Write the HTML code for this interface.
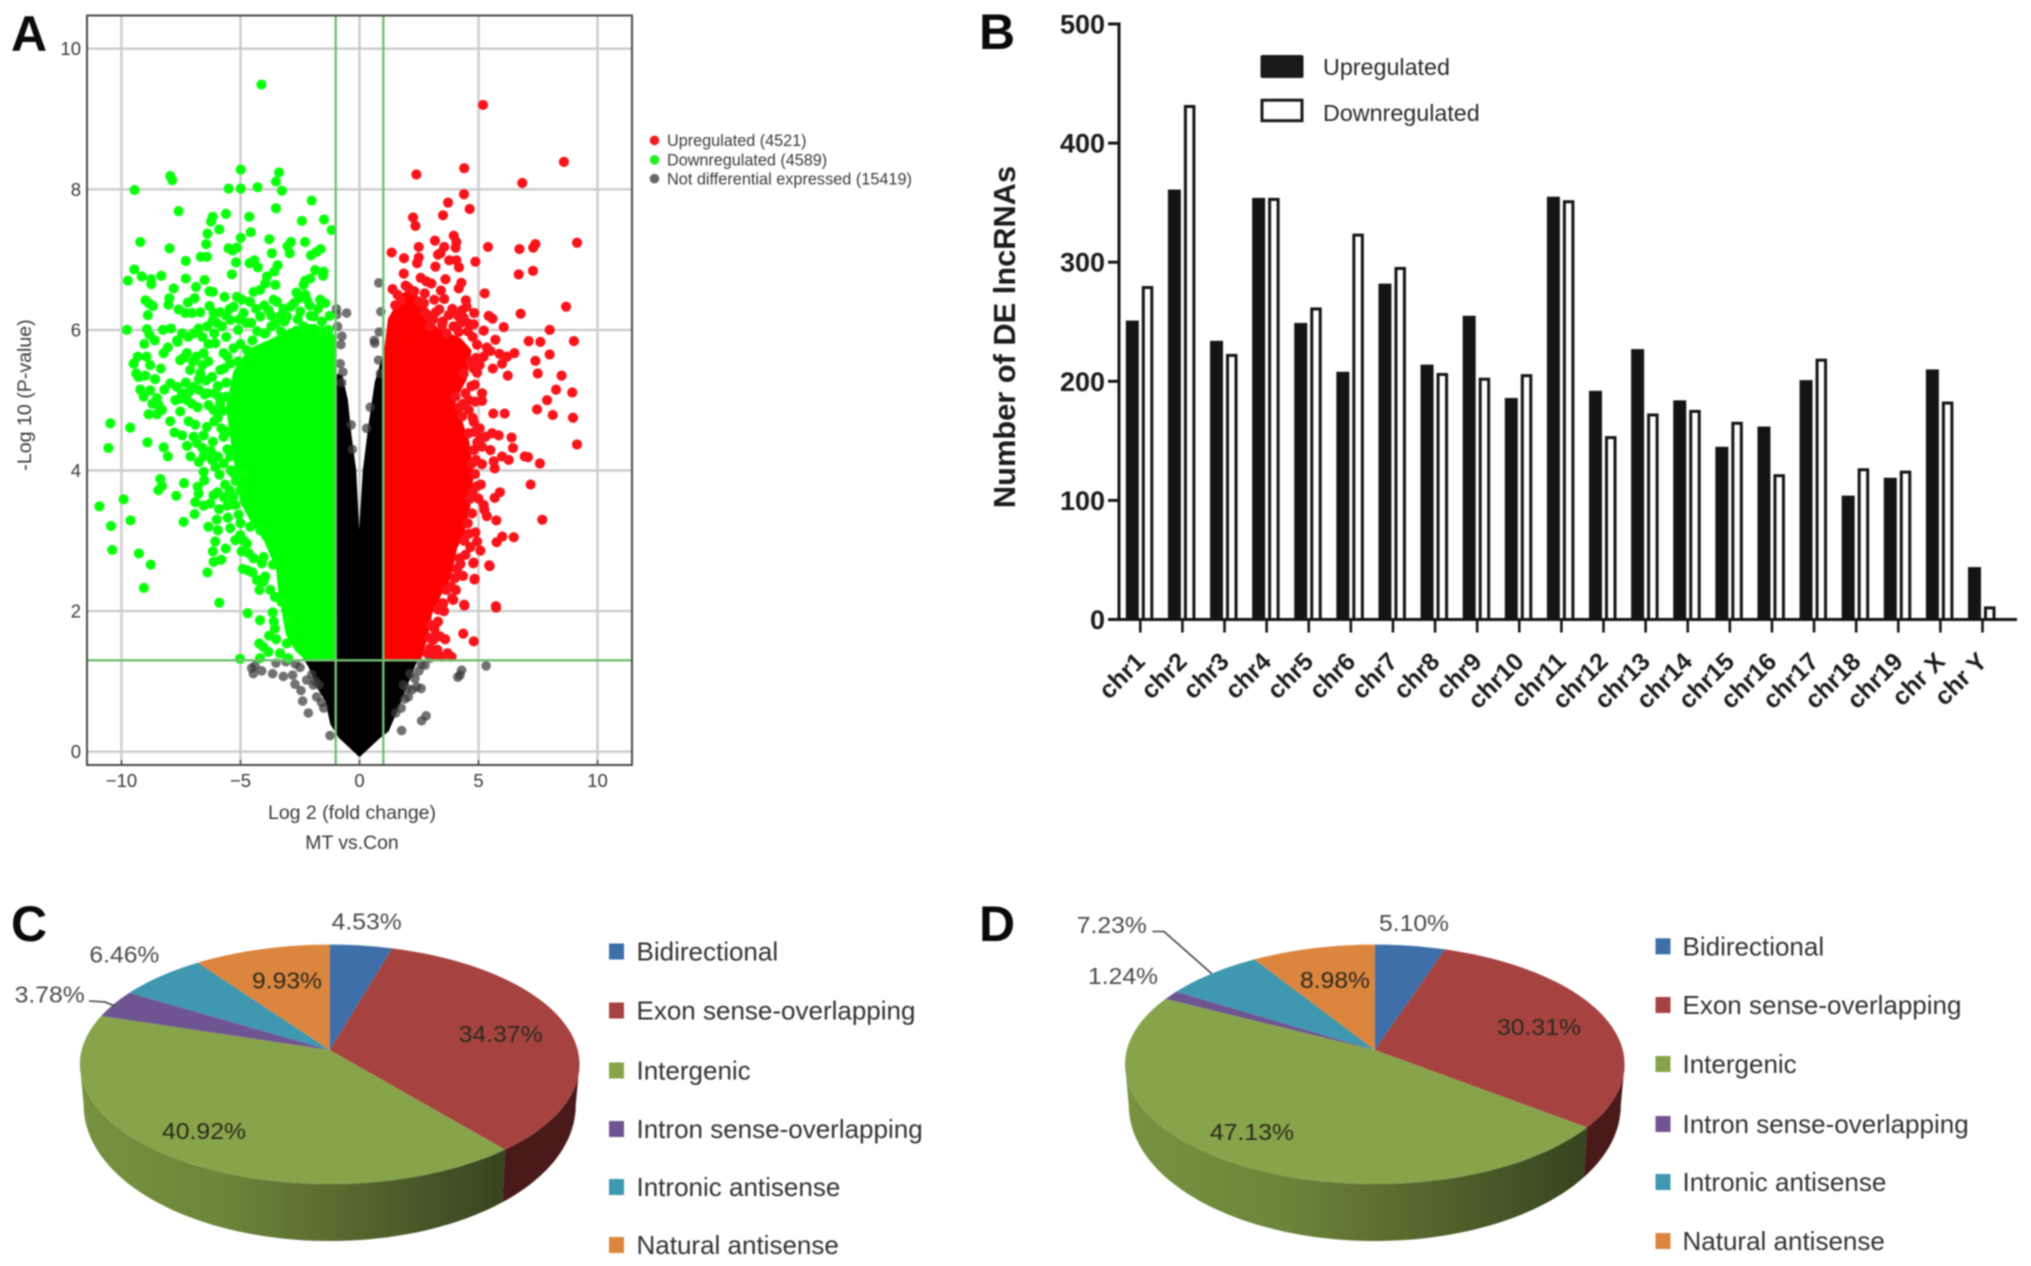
<!DOCTYPE html>
<html lang="en">
<head>
<meta charset="utf-8">
<title>Differentially expressed lncRNAs figure</title>
<style>
html,body{margin:0;padding:0;background:#fff;}
#figure{display:block;width:2031px;height:1266px;filter:blur(0.8px);font-family:"Liberation Sans",Arial,sans-serif;}
.a-txt{fill:#3a3a3a;}
.b-txt{fill:#1c1c1c;font-weight:bold;}
.pie-leg{fill:#333;font-size:26px;}
.panel{font-size:50px;font-weight:bold;fill:#0a0a0a;}
</style>
</head>
<body>
<svg id="figure" xmlns="http://www.w3.org/2000/svg" width="2031" height="1266" viewBox="0 0 2031 1266">
  <rect width="2031" height="1266" fill="#fff"/>

  <text class="panel" x="11" y="51">A</text>
  <text class="panel" x="979" y="49">B</text>
  <text class="panel" x="11" y="941">C</text>
  <text class="panel" x="979" y="941">D</text>

  <g id="volcano"></g>
  <text class="a-txt" x="352" y="819" font-size="19.5" text-anchor="middle">Log 2 (fold change)</text>
  <text class="a-txt" x="352" y="849" font-size="19.4" text-anchor="middle">MT vs.Con</text>
  <text class="a-txt" transform="translate(31,395) rotate(-90)" font-size="19.6" text-anchor="middle">-Log 10 (P-value)</text>

  <g>
    <circle cx="654.5" cy="140.4" r="4.8" fill="#f01c20"/>
    <text class="a-txt" x="667" y="146" font-size="16.2">Upregulated (4521)</text>
    <circle cx="654.5" cy="159.8" r="4.8" fill="#22ee22"/>
    <text class="a-txt" x="667" y="165.5" font-size="16.2">Downregulated (4589)</text>
    <circle cx="654.5" cy="178.7" r="4.8" fill="#666"/>
    <text class="a-txt" x="667" y="184.5" font-size="16.3">Not differential expressed (15419)</text>
  </g>

  <g id="bars"></g>
  <text class="b-txt" transform="translate(1015,337) rotate(-90)" font-size="30.8" text-anchor="middle">Number of DE lncRNAs</text>
  <g>
    <rect x="1260.5" y="55" width="43" height="23" rx="2" fill="#1a1a1a"/>
    <text x="1323" y="75" font-size="23.3" fill="#2a2a2a">Upregulated</text>
    <rect x="1262" y="100.2" width="40" height="20.5" fill="#fff" stroke="#1a1a1a" stroke-width="3"/>
    <text x="1323" y="121" font-size="23.3" fill="#2a2a2a">Downregulated</text>
  </g>

  <defs>
    <linearGradient id="greenSideC" gradientUnits="userSpaceOnUse" x1="80" y1="0" x2="505" y2="0">
      <stop offset="0" stop-color="#76923f"/><stop offset="0.35" stop-color="#6b8439"/><stop offset="0.62" stop-color="#57692f"/><stop offset="1" stop-color="#36441f"/>
    </linearGradient>
    <linearGradient id="greenSideD" gradientUnits="userSpaceOnUse" x1="1125" y1="0" x2="1585" y2="0">
      <stop offset="0" stop-color="#76923f"/><stop offset="0.35" stop-color="#6b8439"/><stop offset="0.62" stop-color="#57692f"/><stop offset="1" stop-color="#36441f"/>
    </linearGradient>
  </defs>
  <g id="pieC"></g>
  <g id="pieD"></g>
  <polyline points="89,1001 105,1002 115,1006" fill="none" stroke="#444" stroke-width="1.6"/>
  <polyline points="1152.5,931.5 1164,931.5 1211.7,973.6" fill="none" stroke="#444" stroke-width="1.6"/>
  <g id="legendC"></g>
  <g id="legendD"></g>
</svg>

<script>
/* ---------- Panel A data: log2 fold change, -log10 p-value ---------- */
const volcanoXTicks = [-10, -5, 0, 5, 10];
const volcanoYTicks = [0, 2, 4, 6, 8, 10];
const foldThreshold = 1;
const pThreshold = 1.3;

const denseNotDifferential = [[0,-.05],[-.82,.21],[-1.17,.4],[-1.38,.73],[-1.66,.88],[-2.08,1.21],[-2.3,1.33],[-1,1.33],[-1,5.35],[-.78,5.35],[-.55,5],[-.4,4.5],[-.2,4],[-.08,3.2],[0,2.7],[.06,3.2],[.2,4],[.45,4.67],[.7,5.25],[1,5.6],[1,1.33],[2.4,1.33],[2.26,1.21],[1.98,.97],[1.7,.73],[1.42,.5],[1.17,.3],[.82,.21]];
const denseDownregulated = [[-1.05,1.33],[-2.2,1.33],[-2.6,1.45],[-3,1.68],[-3.3,2.25],[-3.4,2.6],[-3.9,3],[-4.5,3.3],[-4.9,3.55],[-5.1,3.96],[-5.3,4.4],[-5.5,4.9],[-5.2,5.4],[-4.6,5.7],[-3.6,5.85],[-2.7,6.02],[-1.9,6.05],[-1.1,5.9]];
const denseUpregulated = [[1.14,1.33],[2.5,1.33],[2.8,1.68],[2.95,1.97],[3.35,2.25],[3.75,2.49],[4,2.9],[4.3,3.1],[4.55,3.49],[4.7,3.96],[4.5,4.43],[4.1,4.8],[3.9,5],[4.4,5.3],[4.6,5.7],[4.2,5.85],[3.2,6],[2.6,6.3],[2.3,6.5],[1.9,6.5],[1.3,6.15],[1.14,5.7]];

const downPoints = [[-4.12,9.49],[-4.99,8.28],[-3.38,8.24],[-3.51,8.11],[-3.26,7.98],[-4.28,8.03],[-4.99,8.01],[-5.5,8.01],[-7.95,8.19],[-7.87,8.13],[-9.45,7.99],[-7.6,7.69],[-2.01,7.84],[-3.51,7.73],[-6.17,7.61],[-6.24,7.54],[-5.61,7.65],[-4.63,7.61],[-2.42,7.55],[-1.49,7.57],[-1.17,7.42],[-5.89,7.43],[-6.39,7.37],[-4.57,7.39],[-4.99,7.31],[-3.79,7.29],[-9.21,7.25],[-7.98,7.16],[-6.44,7.22],[-5.5,7.16],[-5.33,7.13],[-5.15,7.17],[-2.88,7.25],[-3.02,7.19],[-2.93,7.09],[-2.29,7.25],[-3.68,7.09],[-1.63,7.15],[-1.81,7.11],[-2.04,7.06],[-6.67,7.04],[-6.41,7.04],[-7.3,6.98],[-5.19,6.96],[-4.62,6.95],[-4.42,6.99],[-4.27,6.89],[-3.44,6.92],[-3.58,6.83],[-9.46,6.86],[-9.15,6.76],[-9.73,6.7],[-8.76,6.72],[-8.75,6.65],[-8.33,6.77],[-7.3,6.73],[-6.51,6.71],[-5.36,6.79],[-1.86,6.85],[-1.51,6.83],[-1.53,6.77],[-3.89,6.76],[-3.96,6.66],[-3.54,6.64],[-2.28,6.7],[-2.35,6.64],[-2.07,6.73],[-7.81,6.59],[-6.87,6.61],[-6.3,6.55],[-6.16,6.54],[-5.67,6.47],[-4.45,6.54],[-4.17,6.57],[-2.65,6.53],[-2.28,6.5],[-8.99,6.42],[-8.85,6.38],[-8.68,6.34],[-8.89,6.21],[-7.99,6.45],[-8.03,6.36],[-6.93,6.45],[-7.21,6.39],[-7.6,6.29],[-7.32,6.24],[-7.04,6.24],[-6.69,6.25],[-6.3,6.34],[-6.13,6.24],[-6.16,6.14],[-5.15,6.47],[-5.29,6.33],[-4.94,6.43],[-3.61,6.43],[-3.47,6.4],[-1.65,6.43],[-1.44,6.38],[-2.21,6.43],[-2.49,6.26],[-1.93,6.19],[-1.58,6.12],[-9.77,6],[-8.93,6.01],[-8.82,5.93],[-8.26,6],[-7.92,6.02],[-7.67,5.85],[-6.76,6.02],[-6.97,5.95],[-5.78,6.05],[-5.43,6.14],[-4.87,6.24],[-4.17,6.19],[-3.82,6.28],[-3.54,6.09],[-3.05,6.19],[-3.2,6.3],[-2.9,6.33],[-4.55,6.1],[-5.1,6],[-5.6,5.9],[-6.1,5.95],[-4.3,5.98],[-3.95,5.95],[-9.04,5.8],[-7.64,5.83],[-8.23,5.67],[-9.32,5.62],[-9.49,5.52],[-9.38,5.38],[-9.28,5.33],[-8.59,5.3],[-9.21,5.15],[-9.07,5.05],[-8.79,5.14],[-8.51,5.03],[-8.44,4.93],[-8.3,4.86],[-8.86,4.8],[-8.51,4.8],[-10.47,4.67],[-9.63,4.61],[-10.55,4.32],[-8.91,4.4],[-7.78,4.54],[-8.23,4.33],[-8.05,4.2],[-7.95,5.24],[-7.67,5.19],[-7.74,5],[-7.25,5],[-7.53,4.84],[-7.18,4.7],[-6.9,4.65],[-6.41,4.62],[-6.97,4.48],[-6.83,4.39],[-6.16,4.41],[-6.55,4.2],[-6.2,4.15],[-5.88,3.94],[-8.37,3.88],[-8.3,3.78],[-8.45,3.72],[-7.37,3.82],[-6.52,3.86],[-6.8,3.77],[-6.76,3.67],[-7.7,3.64],[-9.91,3.59],[-10.93,3.49],[-10.44,3.21],[-9.62,3.29],[-10.39,2.87],[-9.27,2.82],[-8.77,2.66],[-9.06,2.33],[-7.39,3.27],[-6.93,3.38],[-6.55,3.5],[-6.27,3.53],[-6.13,3.65],[-5.96,3.69],[-5.36,3.53],[-5.22,3.51],[-5.54,3.33],[-5.08,3.37],[-5.43,3.18],[-5.22,3.01],[-5.01,3.08],[-6.06,2.99],[-6.16,2.85],[-5.62,2.89],[-6.13,2.7],[-5.81,2.73],[-6.39,2.55],[-4.9,2.6],[-4.7,2.58],[-5.89,2.12],[-4.45,2.75],[-4.03,2.77],[-4.1,2.68],[-3.64,2.66],[-4.31,2.44],[-3.96,2.49],[-4.03,2.42],[-4.73,2.96],[-4.59,3.2],[-4.17,3.15],[-5.01,3.72],[-4.87,3.96],[-5.29,3.96],[-5.43,4.2],[-5.71,4.48],[-6.13,4.86],[-6.34,4.93],[-5.85,4.96],[-7.53,5.57],[-7.25,5.67],[-6.55,5.67],[-7.11,5.43],[-6.69,5.38],[-6.2,5.33],[-6.97,5.19],[-6.06,5.81],[-5.71,5.67],[-5.43,5.52],[-5.85,5.43],[-5.29,5.74],[-4.73,5.71],[-6.4,5.1],[-5.95,5.2],[-5.6,5.25],[-4.7,1.97],[-3.65,1.98],[-4.18,1.87],[-4.25,2.44],[-3.97,2.49],[-4.21,1.54],[-4.04,1.49],[-3.83,1.42],[-5.02,1.32],[-4.18,1.33],[-3.27,2.13],[-2.99,1.87],[-3.06,1.54],[-3.34,1.4],[-2.99,1.33],
[-7.4,5.6],[-7,5.55],[-6.85,5.62],[-6.6,5.5],[-6.35,5.55],[-6.75,5.3],[-6.45,5.28],[-7.3,5.25],[-7.15,5.12],[-6.75,5.15],[-6.5,5.08],[-6.1,5.1],[-5.9,5.05],[-7.45,5.1],[-7.55,5.02],[-7.05,4.95],[-6.8,4.9],[-6.1,4.7],[-5.95,4.75],[-5.8,4.6],[-6.55,4.5],[-6.25,4.28],[-6.6,4.32],[-6.75,4.12],[-6.05,4.05],[-5.95,4.2],[-5.7,4.1],[-5.55,4.3],[-5.65,3.8],[-5.45,3.72],[-5.3,3.62],[-5.7,3.62],[-5.9,3.45],[-5.55,3.5],[-5,3.25],[-4.85,3],[-4.95,2.85],[-4.65,2.82],[-4.5,2.55],[-4.2,2.3],[-3.75,2.3],[-3.55,2.2],[-3.6,1.85],[-3.8,1.65],[-3.5,1.6],[-3.55,1.75],[-5.2,3.85],[-5.4,4],[-5.55,4.55],[-5.75,4.85],[-5.6,5.05],[-5.7,5.45],[-5.55,5.62],[-5.1,5.55],[-5,5.8],[-4.5,5.85],[-4,5.95],[-3.3,5.98],[-3.7,6.05],[-3.15,6.12],[-2.6,6.15],[-2.35,6.05],[-2.05,6.2],[-1.75,6.3],[-1.25,6.2],[-1.3,6],[-1.55,5.98],[-2.75,6.38],[-2.55,6.45],[-2.1,6.35],[-3.3,6.2],[-3.7,6.2],[-4,6.35],[-4.35,6.3],[-4.6,6.4],[-4.75,6.1],[-5.05,6.15],[-5.45,6.3],[-5.6,6.2],[-5.85,6.25],[-6,6.1],[-6.4,6.05],[-6.6,5.9],[-6.35,5.8],[-7.2,5.9],[-7.45,5.95],[-8.05,5.75],[-8.6,5.85],[-8.35,5.45],[-8.8,5.5],[-8.95,5.62],[-9,5.35],[-8.2,5.15],[-8.7,4.95],[-7.95,4.7],[-7.45,4.5],[-7.25,4.35],[-7.1,4.2],[-6.55,3.98],[-6.9,3.55],[-6,3.3],[-6.35,3.2],[-5.95,3.15]];

const upPoints = [[5.19,9.2],[8.59,8.39],[4.4,8.3],[2.39,8.21],[6.84,8.09],[4.39,7.93],[3.72,7.81],[4.63,7.72],[3.51,7.63],[2.25,7.6],[2.35,7.48],[3.96,7.34],[4.07,7.25],[3.17,7.27],[4.04,7.17],[3.56,7.18],[2.49,7.18],[5.4,7.18],[9.14,7.24],[7.39,7.22],[7.3,7.17],[6.72,7.15],[1.35,7.1],[1.87,7.02],[2.49,7.03],[2.42,6.95],[3.4,7.09],[3.3,7.07],[3.77,6.99],[4.07,6.99],[4.87,6.97],[4.18,6.89],[3.19,6.9],[7.29,6.84],[6.69,6.79],[1.86,6.8],[2.57,6.74],[2.81,6.69],[3.02,6.66],[3.61,6.72],[4.28,6.67],[4.17,6.59],[1.39,6.58],[1.94,6.63],[3.42,6.56],[5.26,6.52],[2.74,6.52],[3.56,6.44],[3.14,6.43],[4.47,6.42],[2.71,6.38],[8.68,6.33],[6.77,6.23],[3.35,6.29],[4.31,6.28],[3.75,6.21],[4.82,6.24],[5.43,6.2],[5.59,6.16],[4.38,6.17],[4.59,6.09],[4.8,6.08],[6.06,6.04],[7.99,6],[5.22,5.99],[3.47,6.07],[4.17,5.97],[3.1,6.15],[2.9,6.2],[9.01,5.84],[7.6,5.83],[7.11,5.84],[5.71,5.86],[4.94,5.79],[6.51,5.67],[7.99,5.65],[5.88,5.66],[6.2,5.62],[5.99,5.52],[5.22,5.62],[7.39,5.56],[7.49,5.38],[6.23,5.35],[8.49,5.35],[4.94,5.39],[8.26,5.15],[8.94,5.11],[7.88,5],[4.84,5.22],[5.15,5.1],[5.15,4.99],[7.46,4.87],[5.62,4.81],[6.1,4.81],[8.12,4.79],[8.97,4.75],[4.8,4.69],[9.14,4.37],[6.39,4.47],[5.85,4.5],[5.57,4.53],[5.29,4.48],[5.08,4.46],[6.45,4.32],[5.5,4.29],[5.15,4.34],[4.8,4.29],[5.99,4.2],[6.27,4.15],[6.94,4.2],[7.08,4.19],[5.64,4.13],[5.15,4.09],[7.58,4.1],[5.68,4.03],[5.1,3.8],[7.19,3.8],[5.9,3.69],[5.68,3.61],[5.22,3.51],[5.25,3.44],[4.73,3.39],[5.75,3.29],[7.68,3.3],[4.87,3.12],[6,3.06],[6.48,3.05],[5.76,2.98],[4.94,2.99],[5.08,2.86],[4.66,2.91],[4.8,2.69],[5.45,2.65],[4.84,2.46],[4.24,2.67],[4,2.47],[5.73,2.07],[4.4,2.09],[3.89,2.18],[3.47,2.11],[4.31,4.77],[4.59,4.86],[4.87,4.98],[4.38,5.38],[4.03,5.05],[4.59,4.53],[4.73,4.1],[5.47,2.64],[4.83,2.45],[4.78,2.68],[5.74,2.05],[4.41,2.08],[4.36,1.68],[4.8,1.57],[3.38,1.64],[3.1,1.59],[3.27,1.45],[2.96,1.47],[3.87,1.35],[3.45,1.35],[4.01,2.47],[3.94,2.16],[3.52,2.11],[3.31,2.02],
[1.5,6.35],[1.75,6.42],[1.6,6.5],[2.05,6.6],[2.3,6.55],[2.5,6.4],[2.75,6.25],[2.95,6.05],[3.2,6.25],[3.5,6.12],[3.65,5.95],[3.95,6.05],[4.25,6.1],[4.55,5.98],[4.75,5.9],[4.5,6.33],[4.15,6.2],[3.9,6.3],[4.65,5.55],[4.8,5.45],[4.7,5.2],[4.45,5.1],[4.6,5],[4.35,4.95],[4.2,4.9],[4.75,4.75],[4.85,4.55],[4.95,4.4],[4.9,4.15],[4.85,3.95],[4.95,3.78],[4.75,3.7],[4.65,3.6],[4.55,3.25],[4.4,3],[4.6,3.1],[4.45,2.8],[4.2,2.75],[4.35,2.5],[4.1,2.6],[4.05,2.3],[3.85,2.35],[3.65,2.3],[3.55,2],[3.3,1.85],[3.15,1.75],[3.6,1.6],[3.25,1.65],[2.95,1.62],[3,1.8],[3.7,1.4],[3.15,1.38],[2.85,1.4],[5,3.6],[5.35,3.35],[5.05,4.6],[4.9,5.6],[5.05,5.5],[5.35,5.75],[5.5,5.7],[5.6,5.45]];

const notDifferentialPoints = [[5.32,1.22],[4.29,1.16],[4.22,1.09],[4.13,1.06],[2.8,.51],[2.61,.44],[1.77,.3],[1.52,.55],[-1.24,.23],[-2.15,.55],[-2.39,.72],[-2.46,.87],[-2.71,.96],[-3.2,1.07],[-2.81,1.09],[-3.65,1.11],[-4.11,1.15],[-4.46,1.11],[-4.53,1.19],[-4.39,1.22],[-3.51,1.26],[-3.09,1.28],[-2.22,1.02],[-1.8,.78],[-1.94,.95],[2.59,.9],[2.4,.92],[2.33,1.04],[2.05,.78],[1.84,.95],[2.12,1.11],[2.75,1.23],[2.96,1.33],[-.97,6.3],[-.95,6.22],[-.54,6.24],[-.92,6.05],[-.74,5.91],[.81,6.67],[.9,6.26],[.83,5.97],[.62,5.85],[.64,5.81],[.8,5.57],[.88,5.38],[-.78,5.79],[-.81,5.52],[-.75,5.25],[-.7,5.4],[.45,4.9],[.3,4.6],[-.35,4.65],[-.3,4.3],[-2,1.1],[-1.85,1],[-1.7,.95],[-1.6,.7],[-1.5,.62],[2,.9],[1.9,.75],[2.2,.88],[1.75,.62],[2.5,1.15],[2.6,1.25],[-2.5,1.2],[-2.7,1.25]];

/* ---------- Panel B data ---------- */
const chromosomes = ['chr1','chr2','chr3','chr4','chr5','chr6','chr7','chr8','chr9','chr10','chr11','chr12','chr13','chr14','chr15','chr16','chr17','chr18','chr19','chr X','chr Y'];
const upregulatedCounts = [251,361,234,354,249,208,282,214,255,186,355,192,227,184,145,162,201,104,119,210,44];
const downregulatedCounts = [280,432,223,354,262,324,296,207,203,206,352,154,173,176,166,122,219,127,125,183,11];
const barYTicks = [0,100,200,300,400,500];

/* ---------- Panels C and D data ---------- */
const pieCategories = ['Bidirectional','Exon sense-overlapping','Intergenic','Intron sense-overlapping','Intronic antisense','Natural antisense'];
const pieCValues = [4.53,34.37,40.92,3.78,6.46,9.93];
const pieDValues = [5.10,30.31,47.13,1.24,7.23,8.98];

const SVGNS = 'http://www.w3.org/2000/svg';
function mk(tag, parent){ const el = document.createElementNS(SVGNS, tag); parent.appendChild(el); return el; }

/* ---------- Volcano ---------- */
const vx = v => 359.5 + v * 23.8;
const vy = v => 751.7 - v * 70.3;
const polyPts = arr => arr.map(p => vx(p[0]).toFixed(1) + ',' + vy(p[1]).toFixed(1)).join(' ');
(function drawVolcano(){
  const g = document.getElementById('volcano');
  volcanoXTicks.forEach(t => {
    const l = mk('line', g);
    
    
    l.setAttribute('x1', vx(t)); l.setAttribute('x2', vx(t)); l.setAttribute('y1', 15.5); l.setAttribute('y2', 765);
    l.setAttribute('stroke', '#cbcbcb'); l.setAttribute('stroke-width', 2.4);
    const m = mk('line', g);
    
    
    m.setAttribute('x1', vx(t)); m.setAttribute('x2', vx(t)); m.setAttribute('y1', 760); m.setAttribute('y2', 765);
    m.setAttribute('stroke', '#555'); m.setAttribute('stroke-width', 1.5);
    const s = mk('text', g);
    
    
    s.setAttribute('class', 'a-txt'); s.setAttribute('x', vx(t)); s.setAttribute('y', 787);
    s.setAttribute('font-size', 18.5); s.setAttribute('text-anchor', 'middle');
    s.textContent = (t < 0 ? '\u2212' + (-t) : String(t));
  });
  volcanoYTicks.forEach(t => {
    const l = mk('line', g);
    
    
    l.setAttribute('x1', 87); l.setAttribute('x2', 632); l.setAttribute('y1', vy(t)); l.setAttribute('y2', vy(t));
    l.setAttribute('stroke', '#cbcbcb'); l.setAttribute('stroke-width', 2.4);
    const s = mk('text', g);
    
    
    s.setAttribute('class', 'a-txt'); s.setAttribute('x', 81); s.setAttribute('y', vy(t) + 6.5);
    s.setAttribute('font-size', 18.5); s.setAttribute('text-anchor', 'end');
    s.textContent = String(t);
  });
  const nsDense = mk('polygon', g);
  
  
  nsDense.setAttribute('points', polyPts(denseNotDifferential));
  nsDense.setAttribute('fill', '#000'); nsDense.setAttribute('stroke', '#000'); nsDense.setAttribute('stroke-width', 3); nsDense.setAttribute('stroke-linejoin', 'round');
  notDifferentialPoints.forEach(p => {
    const c = mk('circle', g);
    
    
    c.setAttribute('cx', vx(p[0])); c.setAttribute('cy', vy(p[1])); c.setAttribute('r', 4.8);
    c.setAttribute('fill', '#3c3c3c'); c.setAttribute('fill-opacity', 0.72);
  });
  const downDense = mk('polygon', g);
  
  
  downDense.setAttribute('points', polyPts(denseDownregulated));
  downDense.setAttribute('fill', '#00ff00'); downDense.setAttribute('stroke', '#00ff00'); downDense.setAttribute('stroke-width', 5); downDense.setAttribute('stroke-linejoin', 'round');
  downPoints.forEach(p => {
    const c = mk('circle', g);
    
    
    c.setAttribute('cx', vx(p[0])); c.setAttribute('cy', vy(p[1])); c.setAttribute('r', 5.1);
    c.setAttribute('fill', '#0aff0a');
  });
  const upDense = mk('polygon', g);
  
  
  upDense.setAttribute('points', polyPts(denseUpregulated));
  upDense.setAttribute('fill', '#ff0000'); upDense.setAttribute('stroke', '#ff0000'); upDense.setAttribute('stroke-width', 5); upDense.setAttribute('stroke-linejoin', 'round');
  upPoints.forEach(p => {
    const c = mk('circle', g);
    
    
    c.setAttribute('cx', vx(p[0])); c.setAttribute('cy', vy(p[1])); c.setAttribute('r', 5.1);
    c.setAttribute('fill', '#f8141a');
  });
  [-foldThreshold, foldThreshold].forEach(t => {
    const l = mk('line', g);
    
    
    l.setAttribute('x1', vx(t)); l.setAttribute('x2', vx(t)); l.setAttribute('y1', 15.5); l.setAttribute('y2', 765);
    l.setAttribute('stroke', '#72c072'); l.setAttribute('stroke-width', 2.4);
  });
  const pl = mk('line', g);
  
  
  pl.setAttribute('x1', 87); pl.setAttribute('x2', 632); pl.setAttribute('y1', vy(pThreshold)); pl.setAttribute('y2', vy(pThreshold));
  pl.setAttribute('stroke', '#72c072'); pl.setAttribute('stroke-width', 2.4);
  const frame = mk('rect', g);
  
  
  frame.setAttribute('x', 87); frame.setAttribute('y', 15.5); frame.setAttribute('width', 545); frame.setAttribute('height', 749.5);
  frame.setAttribute('fill', 'none'); frame.setAttribute('stroke', '#4a4a4a'); frame.setAttribute('stroke-width', 2);
})();

/* ---------- Bars ---------- */
const BAR_BASE = 619.5;
const bx = i => 1140.3 + i * 42.11;
const by = v => BAR_BASE - v * 1.191;
(function drawBars(){
  const g = document.getElementById('bars');
  chromosomes.forEach((name, i) => {
    const up = mk('rect', g);
    
    
    up.setAttribute('x', bx(i) - 14.5); up.setAttribute('width', 13);
    up.setAttribute('y', by(upregulatedCounts[i])); up.setAttribute('height', BAR_BASE - by(upregulatedCounts[i]));
    up.setAttribute('fill', '#141414');
    const dn = mk('rect', g);
    
    
    dn.setAttribute('x', bx(i) + 3); dn.setAttribute('width', 8.5);
    dn.setAttribute('y', by(downregulatedCounts[i]) + 1.5); dn.setAttribute('height', BAR_BASE - by(downregulatedCounts[i]) - 1.5);
    dn.setAttribute('fill', '#fff'); dn.setAttribute('stroke', '#141414'); dn.setAttribute('stroke-width', 3);
    const tick = mk('line', g);
    
    
    tick.setAttribute('x1', bx(i)); tick.setAttribute('x2', bx(i)); tick.setAttribute('y1', BAR_BASE); tick.setAttribute('y2', 632.5);
    tick.setAttribute('stroke', '#141414'); tick.setAttribute('stroke-width', 2.6);
    const t = mk('text', g);
    
    
    t.setAttribute('class', 'b-txt'); t.setAttribute('font-size', 25); t.setAttribute('text-anchor', 'end');
    t.setAttribute('transform', 'translate(' + (bx(i) + 6) + ',663) rotate(-45)');
    t.textContent = name;
  });
  barYTicks.forEach(v => {
    const l = mk('line', g);
    
    
    l.setAttribute('x1', 1108); l.setAttribute('x2', 1119); l.setAttribute('y1', by(v)); l.setAttribute('y2', by(v));
    l.setAttribute('stroke', '#141414'); l.setAttribute('stroke-width', 3);
    const t = mk('text', g);
    
    
    t.setAttribute('class', 'b-txt'); t.setAttribute('font-size', 27); t.setAttribute('text-anchor', 'end');
    t.setAttribute('x', 1105); t.setAttribute('y', by(v) + 9.5);
    t.textContent = String(v);
  });
  const ya = mk('line', g);
  
  
  ya.setAttribute('x1', 1119); ya.setAttribute('x2', 1119); ya.setAttribute('y1', by(500) - 1.5); ya.setAttribute('y2', BAR_BASE + 1.5);
  ya.setAttribute('stroke', '#141414'); ya.setAttribute('stroke-width', 3);
  const xa = mk('line', g);
  
  
  xa.setAttribute('x1', 1108); xa.setAttribute('x2', 2017); xa.setAttribute('y1', BAR_BASE); xa.setAttribute('y2', BAR_BASE);
  xa.setAttribute('stroke', '#141414'); xa.setAttribute('stroke-width', 3);
})();

/* ---------- Pies ---------- */
const pieColors = ['#3f6fa8','#a64341','#87a44b','#6e5592','#3f98b0','#dc853e'];
const sideColors = { 1: '#4a1a1a' };
const RX = 248, RY = 118, PERSP = -0.1195, CY = 1050;
function piePoint(cx, deg, low){
  const a = deg * Math.PI / 180, u = Math.sin(a), v = -Math.cos(a), d = 1 + PERSP * v;
  let x = cx + RX * u / d, y = CY + RY * v / d;
  if (low) { x = cx + (x - cx) * 0.985; y += 38.6 + 18.4 * v; }
  return [x, y];
}
function arcPts(cx, a0, a1, low){
  const out = [], n = Math.max(2, Math.ceil(Math.abs(a1 - a0) / 2));
  for (let i = 0; i <= n; i++) out.push(piePoint(cx, a0 + (a1 - a0) * i / n, low));
  return out;
}
const ptsToD = pts => 'M' + pts.map(p => p[0].toFixed(1) + ' ' + p[1].toFixed(1)).join('L') + 'Z';
function drawPie(groupId, cx, values, gradId, anchors){
  const g = document.getElementById(groupId);
  const total = values.reduce((s, v) => s + v, 0);
  let cum = 0;
  const ranges = values.map(v => { const a0 = cum / total * 360; cum += v; return [a0, cum / total * 360]; });
  ranges.forEach((r, i) => {
    const a0 = Math.max(r[0], 97), a1 = Math.min(r[1], 263);
    if (a1 <= a0) return;
    const side = mk('path', g);
    
    
    side.setAttribute('d', ptsToD(arcPts(cx, a0, a1, false).concat(arcPts(cx, a1, a0, true))));
    side.setAttribute('fill', i === 2 ? 'url(#' + gradId + ')' : (sideColors[i] || pieColors[i]));
  });
  ranges.forEach((r, i) => {
    const s = mk('path', g);
    
    
    s.setAttribute('d', ptsToD([[cx, CY]].concat(arcPts(cx, r[0], r[1], false))));
    s.setAttribute('fill', pieColors[i]);
  });
  values.forEach((v, i) => {
    const t = mk('text', g);
    
    
    t.setAttribute('x', anchors[i][0]); t.setAttribute('y', anchors[i][1] + 8);
    t.setAttribute('font-size', 23); t.setAttribute('text-anchor', 'middle');
    t.setAttribute('fill', anchors[i][2]);
    t.setAttribute('textLength', v >= 10 ? 84 : 70); t.setAttribute('lengthAdjust', 'spacingAndGlyphs');
    t.textContent = v.toFixed(2) + '%';
  });
}
function drawPieLegend(groupId, boxX, textX, rows){
  const g = document.getElementById(groupId);
  pieCategories.forEach((name, i) => {
    const r = mk('rect', g);
    
    
    r.setAttribute('x', boxX); r.setAttribute('y', rows[i] - 8); r.setAttribute('width', 15); r.setAttribute('height', 16);
    r.setAttribute('fill', pieColors[i]);
    const t = mk('text', g);
    
    
    t.setAttribute('class', 'pie-leg'); t.setAttribute('x', textX); t.setAttribute('y', rows[i] + 9);
    t.textContent = name;
  });
}
const outerInk = '#4a4a4a', innerInk = '#2a2a1c';
drawPie('pieC', 329.7, pieCValues, 'greenSideC',
  [[366.7,921.4,outerInk],[500.6,1034,innerInk],[204,1130.8,innerInk],[49.7,994.5,outerInk],[124.4,954.7,outerInk],[287,980.3,innerInk]]);
drawPie('pieD', 1374.8, pieDValues, 'greenSideD',
  [[1414,923,outerInk],[1539,1027,innerInk],[1252,1132,innerInk],[1123,976,outerInk],[1111.8,924.8,outerInk],[1335,980,innerInk]]);
drawPieLegend('legendC', 609, 636.5, [951.5,1010.5,1070.5,1129,1187,1245]);
drawPieLegend('legendD', 1655.5, 1682.5, [946.3,1005,1064,1124,1182,1241]);
</script>
</body>
</html>
